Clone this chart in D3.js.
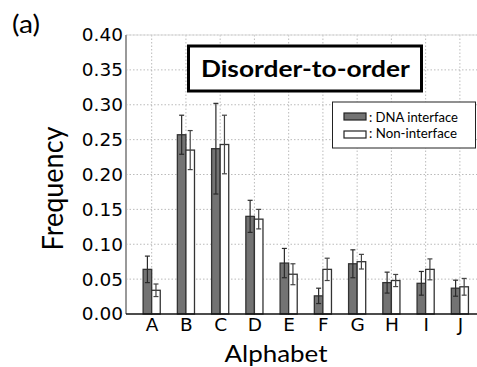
<!DOCTYPE html>
<html><head><meta charset="utf-8">
<script src="https://cdn.jsdelivr.net/npm/d3@7"></script>
<style>body{margin:0;background:#fff}svg{display:block}</style>
</head><body>
<script>
const categories = ["A","B","C","D","E","F","G","H","I","J"];
const dnaValues = [0.064,0.257,0.237,0.140,0.073,0.026,0.072,0.045,0.044,0.037];
const dnaErrors = [0.019,0.028,0.065,0.023,0.021,0.011,0.020,0.015,0.017,0.0115];
const nonValues = [0.034,0.235,0.243,0.136,0.057,0.064,0.075,0.048,0.064,0.039];
const nonErrors = [0.009,0.028,0.042,0.014,0.015,0.016,0.0105,0.0087,0.015,0.012];
const yTicks = [0,0.05,0.10,0.15,0.20,0.25,0.30,0.35,0.40];
const seriesNames = [": DNA interface", ": Non-interface"];

const W = 477, H = 367;
const svg = d3.select("body").append("svg").attr("width", W).attr("height", H);
const L = 126, R = 477, T = 35, B = 314;
const x = d3.scaleLinear().domain([-0.75, 9.5]).range([L, R]);
const y = d3.scaleLinear().domain([0, 0.40]).range([B, T]);
const bw = 0.25;

// grid
const g = svg.append("g");
g.selectAll("line.hg").data(yTicks.slice(1)).enter().append("line")
  .attr("x1", L).attr("x2", R).attr("y1", d => y(d)).attr("y2", d => y(d))
  .attr("stroke", "#aaa").attr("stroke-width", 0.8).attr("stroke-dasharray", "1.5,2");
g.selectAll("line.vg").data(categories).enter().append("line")
  .attr("x1", (d,i) => x(i)).attr("x2", (d,i) => x(i)).attr("y1", T).attr("y2", B)
  .attr("stroke", "#aaa").attr("stroke-width", 0.8).attr("stroke-dasharray", "1.5,2");

// bars
function drawSeries(vals, errs, offset, fill, errColor) {
  const s = svg.append("g");
  s.selectAll("rect").data(vals).enter().append("rect")
    .attr("x", (d,i) => x(i + offset)).attr("width", x(bw) - x(0))
    .attr("y", d => y(d)).attr("height", d => y(0) - y(d))
    .attr("fill", fill).attr("stroke", "#333").attr("stroke-width", 1.3);
  const cx = i => x(i + offset + bw/2);
  s.selectAll("line.e").data(vals).enter().append("line")
    .attr("x1", (d,i) => cx(i)).attr("x2", (d,i) => cx(i))
    .attr("y1", (d,i) => y(d + errs[i])).attr("y2", (d,i) => y(d - errs[i]))
    .attr("stroke", errColor).attr("stroke-width", 1.2);
  ["p","m"].forEach(k => {
    s.selectAll("line.c"+k).data(vals).enter().append("line")
      .attr("x1", (d,i) => cx(i) - 2.5).attr("x2", (d,i) => cx(i) + 2.5)
      .attr("y1", (d,i) => y(k==="p" ? d + errs[i] : d - errs[i]))
      .attr("y2", (d,i) => y(k==="p" ? d + errs[i] : d - errs[i]))
      .attr("stroke", errColor).attr("stroke-width", 1.2);
  });
}
drawSeries(dnaValues, dnaErrors, -bw, "#737373", "#2a2a2a");
drawSeries(nonValues, nonErrors, 0, "#fff", "#444");

// spines
svg.append("line").attr("x1", L).attr("x2", R).attr("y1", T).attr("y2", T).attr("stroke", "#ddd").attr("stroke-width", 1);
svg.append("line").attr("x1", L).attr("x2", L).attr("y1", T).attr("y2", B).attr("stroke", "#999").attr("stroke-width", 2);
svg.append("line").attr("x1", L).attr("x2", R).attr("y1", B).attr("y2", B).attr("stroke", "#111").attr("stroke-width", 1.5);

// axes labels
const yAxis = d3.axisLeft(y).tickValues(yTicks).tickFormat(d3.format(".2f")).tickSize(0).tickPadding(3);
const ya = svg.append("g").attr("transform", `translate(${L},0)`).call(yAxis);
ya.select(".domain").remove();
ya.selectAll("text").attr("font-family", "DejaVu Sans").attr("font-size", 18.5).attr("fill", "#000");

const xAxis = d3.axisBottom(x).tickValues(d3.range(categories.length)).tickFormat(i => categories[i]).tickSize(0).tickPadding(4);
const xa = svg.append("g").attr("transform", `translate(0,${B})`).call(xAxis);
xa.select(".domain").remove();
xa.selectAll("text").attr("font-family", "DejaVu Sans").attr("font-size", 18.5).attr("fill", "#000");

svg.append("text").attr("x", 276).attr("y", 362).attr("text-anchor", "middle")
  .attr("font-family", "Lato").attr("font-size", 23.6)
  .attr("textLength", 103).attr("lengthAdjust", "spacingAndGlyphs").text("Alphabet");
svg.append("text").attr("transform", `translate(63,188.5) scale(1.1,1) rotate(-90)`).attr("text-anchor", "middle")
  .attr("font-family", "Lato").attr("font-size", 27).text("Frequency");
svg.append("text").attr("x", 12).attr("y", 33).attr("font-family", "Lato").attr("font-size", 25)
  .attr("textLength", 28).attr("lengthAdjust", "spacingAndGlyphs").text("(a)");

// title box
svg.append("rect").attr("x", 188.5).attr("y", 46).attr("width", 233).attr("height", 45)
  .attr("fill", "#fff").attr("stroke", "#000").attr("stroke-width", 3);
svg.append("text").attr("x", 305.4).attr("y", 77.3).attr("text-anchor", "middle")
  .attr("font-family", "Lato").attr("font-weight", "bold").attr("font-size", 23)
  .attr("textLength", 209).attr("lengthAdjust", "spacingAndGlyphs").text("Disorder-to-order");

// legend
svg.append("rect").attr("x", 332.5).attr("y", 102).attr("width", 143).attr("height", 46)
  .attr("fill", "#fff").attr("stroke", "#222").attr("stroke-width", 1);
const fills = ["#737373", "#fff"];
seriesNames.forEach((nm, i) => {
  svg.append("rect").attr("x", 344).attr("y", 113 + i*18).attr("width", 22).attr("height", 7)
    .attr("fill", fills[i]).attr("stroke", "#222").attr("stroke-width", 1.2);
  svg.append("text").attr("x", 369).attr("y", 121.7 + i*16.6).attr("font-family", "Lato").attr("font-size", 13.5)
    .attr("textLength", 89 - i).attr("lengthAdjust", "spacingAndGlyphs").text(nm);
});
</script>
</body></html>
